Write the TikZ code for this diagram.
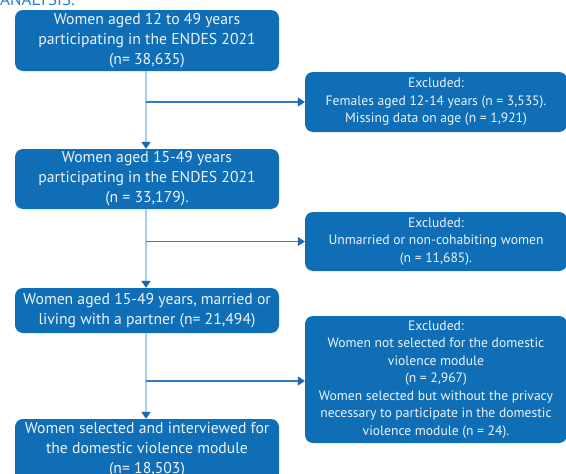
\documentclass[tikz,border=0pt]{standalone}
\usepackage{fontspec}
\setmainfont{PT Sans}
\usetikzlibrary{arrows.meta}
\definecolor{boxblue}{HTML}{0F6EB6}
\definecolor{txtwhite}{HTML}{EEF4FB}
\definecolor{vline}{HTML}{A6CDEE}
\definecolor{hline}{HTML}{2C7FC6}
\definecolor{tipblue}{HTML}{1668B0}
\begin{document}
\begin{tikzpicture}[x=1pt,y=-1pt,
  mainbox/.style={fill=boxblue,rounded corners=8pt,text=txtwhite,align=center,
    minimum width=264pt,inner sep=0pt,font=\fontsize{15.7}{20}\selectfont},
  exbox/.style={fill=boxblue,rounded corners=8pt,text=txtwhite,align=center,
    minimum width=262pt,inner sep=0pt,font=\fontsize{13.6}{17.5}\selectfont},
  vconn/.style={draw=vline,line width=2.6pt,-{Triangle[width=9pt,length=7pt,color=tipblue,fill=tipblue]}, shorten >=0pt},
  hconn/.style={draw=hline,line width=1.3pt,-{Triangle[width=9pt,length=7pt,color=tipblue,fill=tipblue]}}
]
\useasboundingbox (0,0) rectangle (566,474);
\clip (0,0) rectangle (566,474);
\node[anchor=base west,text=hline,font=\fontsize{17}{20}\selectfont,inner sep=0pt] (title) at (0,5) {ANALYSIS.};

\node[mainbox,minimum height=61pt] (b1) at (147,40.5) {Women aged 12 to 49 years\\participating in the ENDES 2021\\(n= 38,635)};
\node[mainbox,minimum height=60pt] (b2) at (147,179) {Women aged 15-49 years\\participating in the ENDES 2021\\(n = 33,179).};
\node[mainbox,minimum height=45pt] (b3) at (147,310.5) {Women aged 15-49 years, married or\\living with a partner (n= 21,494)};
\node[mainbox,minimum height=62pt] (b4) at (147,450) {Women selected and interviewed for\\the domestic violence module\\(n= 18,503)};

\node[exbox,minimum height=60pt] (e1) at (436,102) {Excluded:\\Females aged 12-14 years (n = 3,535).\\Missing data on age (n = 1,921)};
\node[exbox,minimum height=59pt] (e2) at (436,241.5) {Excluded:\\Unmarried or non-cohabiting women\\(n = 11,685).};
\node[exbox,minimum height=127pt] (e3) at (436,379.5) {Excluded:\\Women not selected for the domestic\\violence module\\(n = 2,967)\\Women selected but without the privacy\\necessary to participate in the domestic\\violence module (n = 24).};

\coordinate (j1) at (146,102);
\coordinate (j2) at (146,241.5);
\coordinate (j3) at (146,381);

\draw[vconn] (b1.south -| j1) -- (b2.north -| j1);
\draw[vconn] (b2.south -| j2) -- (b3.north -| j2);
\draw[vconn] (b3.south -| j3) -- (b4.north -| j3);

\draw[hconn] (j1) -- (e1.west |- j1);
\draw[hconn] (j2) -- (e2.west |- j2);
\draw[hconn] (j3) -- (e3.west |- j3);
\end{tikzpicture}
\end{document}
